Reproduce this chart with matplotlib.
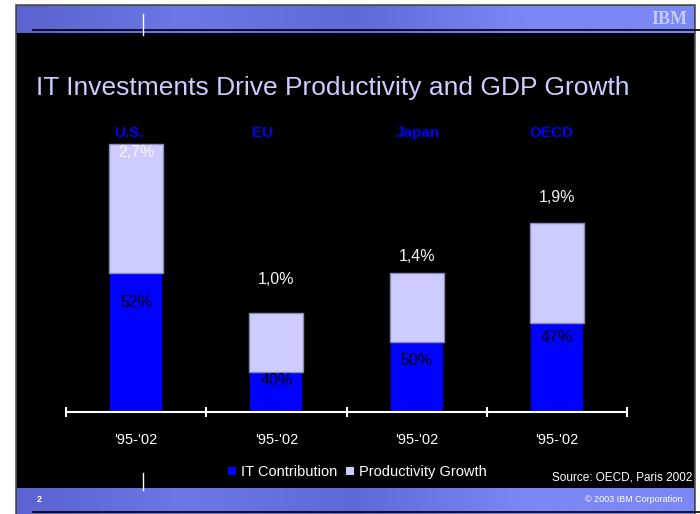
import matplotlib
matplotlib.use("Agg")
import matplotlib.pyplot as plt
import numpy as np
from matplotlib.colors import LinearSegmentedColormap
from matplotlib.patches import Rectangle

plt.rcParams["font.family"] = ["Liberation Sans", "DejaVu Sans"]

# data
regions = ["U.S.", "EU", "Japan", "OECD"]
periods = ["'95-'02", "'95-'02", "'95-'02", "'95-'02"]
growth = [2.7, 1.0, 1.4, 1.9]          # productivity growth, % per year
it_share = [52, 40, 50, 47]            # share of growth from IT, %
growth_labels = ["2,7%", "1,0%", "1,4%", "1,9%"]

# label offsets in pixels (style only)
share_off = [-30, -8, -18, -14]
growth_off = [-9, 33, 16, 26]
region_dx = [-7, -14, 1, -5]

BLUE = "#0000ff"
LILAC = "#ccccff"
HEAD = "#7b87f4"

W, H = 700, 514
fig = plt.figure(figsize=(W / 100, H / 100), dpi=100)
fig.patch.set_facecolor("white")

# slide background in pixel coordinates
bg = fig.add_axes([0, 0, 1, 1])
bg.set_xlim(0, W)
bg.set_ylim(H, 0)
bg.axis("off")
bg.add_patch(Rectangle((16, 5), 679, 510, facecolor="black", edgecolor="#555555", lw=1.2))

cmap = LinearSegmentedColormap.from_list("hdr", ["#5a63cf", "#6d78e6", "#5f6ad9", HEAD, HEAD])
grad = np.linspace(0, 1, 400).reshape(1, -1)
bg.imshow(grad, cmap=cmap, extent=(17, 694, 33, 6), aspect="auto", zorder=1)
bg.imshow(grad, cmap=cmap, extent=(17, 694, 514, 488), aspect="auto", zorder=1)
bg.plot([33, 700], [30, 30], color="black", lw=1.2, zorder=2)
bg.plot([33, 700], [512, 512], color="black", lw=1.2, zorder=2)
bg.plot([143, 143], [14, 35], color="white", lw=1, zorder=2)
bg.plot([143, 143], [473, 490], color="white", lw=1, zorder=2)
bg.text(669, 20, "IBM", color="#c8ccf4", fontsize=13, fontweight="bold",
        family="Liberation Serif", ha="center", va="center", zorder=3)

bg.text(36, 88, "IT Investments Drive Productivity and GDP Growth",
        color=LILAC, fontsize=19, ha="left", va="center")
bg.text(692, 477, "Source: OECD, Paris 2002", color="white", fontsize=8.5,
        ha="right", va="center")
bg.text(37, 500, "2", color="white", fontsize=6.5, fontweight="bold", va="center")
bg.text(682, 500, "© 2003 IBM Corporation", color="white", fontsize=6.5,
        ha="right", va="center")

# chart
x = np.arange(len(regions))
it_part = [g * s / 100 for g, s in zip(growth, it_share)]
prod_part = [g - i for g, i in zip(growth, it_part)]

ax = fig.add_axes([66 / W, (H - 412) / H, (627 - 66) / W, 298 / H])
ax.set_facecolor("none")
ax.set_xlim(-0.5, 3.5)
ax.set_ylim(0, 3.0)

bw = 0.385
ax.bar(x, it_part, width=bw, color=BLUE, edgecolor="black", linewidth=1.2,
       label="IT Contribution", zorder=2)
ax.bar(x, prod_part, width=bw, bottom=it_part, color=LILAC, edgecolor="#8a8ab4",
       linewidth=1, label="Productivity Growth", zorder=2)

for xi, ip, s, off in zip(x, it_part, it_share, share_off):
    ax.annotate(f"{s}%", (xi, ip), xytext=(0, off), textcoords="offset pixels",
                ha="center", va="center", fontsize=11.5, color="black", zorder=3)
for xi, g, lab, off in zip(x, growth, growth_labels, growth_off):
    ax.annotate(lab, (xi, g), xytext=(0, off), textcoords="offset pixels",
                ha="center", va="center", fontsize=11.5, color="#f4f4f4", zorder=3)
for xi, r, dx in zip(x, regions, region_dx):
    ax.annotate(r, (xi, 3.0), xytext=(dx, -19), textcoords="offset pixels",
                ha="center", va="center", fontsize=11, fontweight="bold", color=BLUE)

for s in ("top", "right", "left"):
    ax.spines[s].set_visible(False)
ax.spines["bottom"].set_color("white")
ax.spines["bottom"].set_linewidth(1.5)
ax.set_yticks([])
ax.set_xticks(x)
ax.set_xticklabels(periods, color="white", fontsize=10.5)
ax.tick_params(axis="x", which="major", length=0, pad=15)
ax.set_xticks(np.arange(-0.5, 4, 1), minor=True)
ax.tick_params(axis="x", which="minor", length=7, width=1.5, color="white", direction="inout")

leg = ax.legend(loc="upper center", bbox_to_anchor=(0.52, -0.135), ncol=2, frameon=False,
                fontsize=10.5, handlelength=0.5, handleheight=0.5, handletextpad=0.4,
                columnspacing=0.6, labelcolor="white")
for h in leg.legend_handles:
    h.set_edgecolor("none")

fig.savefig("out.png", dpi=100, facecolor="white")
